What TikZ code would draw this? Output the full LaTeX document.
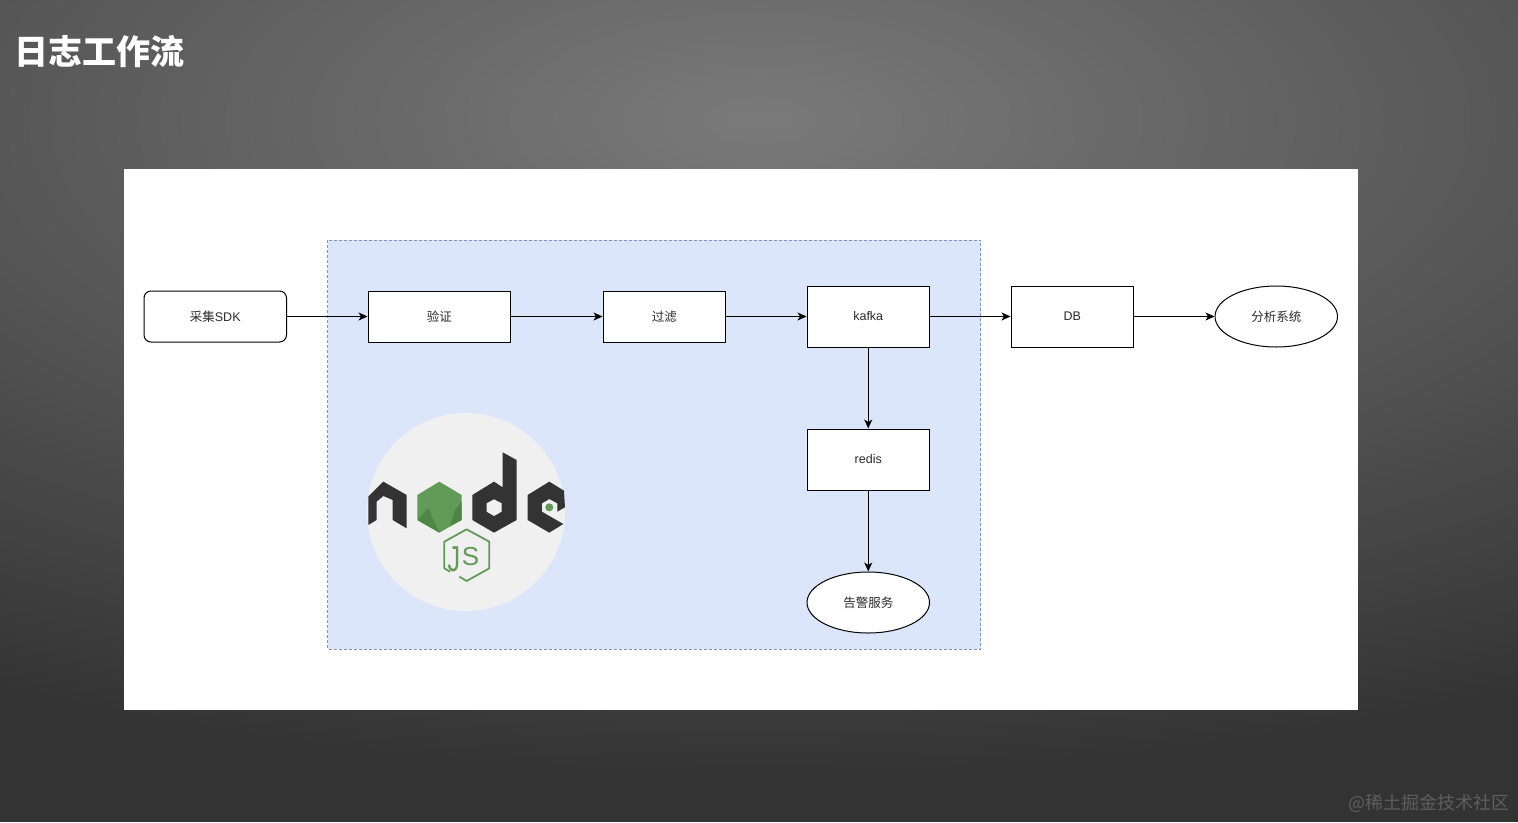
\documentclass[tikz,border=0pt]{standalone}
\usepackage{fontspec}
\setmainfont{Liberation Sans}
\newfontfamily\cjk{Noto Sans CJK SC}
\usetikzlibrary{arrows.meta,shapes.geometric}
\definecolor{groupfill}{HTML}{DBE6FA}
\definecolor{groupline}{HTML}{7F93C4}
\definecolor{logodark}{HTML}{333333}
\definecolor{logogreen}{HTML}{629A57}
\definecolor{logodeep}{HTML}{4C8743}
\definecolor{logolight}{HTML}{F0F0F0}
\definecolor{bgin}{HTML}{7A7A7A}
\definecolor{bgout}{HTML}{333333}
\definecolor{labeltext}{HTML}{2B2B2B}
\definecolor{marktext}{HTML}{5E5E5E}
\tikzset{
  x=1pt,y=-1pt,
  flow/.style={draw=black,line width=1pt,-{Stealth[length=9pt,width=8pt,inset=2.5pt]}},
  box/.style={draw=black,fill=white,line width=1pt,inner sep=0pt,text=labeltext,font=\fontsize{12.5}{14}\selectfont},
  oval/.style={box,ellipse,minimum width=122.5pt,minimum height=61pt},
}
\begin{document}
\begin{tikzpicture}
\useasboundingbox (0,0) rectangle (1518,822);
\begin{scope}
  \clip (0,0) rectangle (1518,822);
  \fill[bgout] (0,0) rectangle (1518,822);
  \shade[inner color=bgin,outer color=bgout] (760,120) ellipse [x radius=1550,y radius=665];
\end{scope}
\node[anchor=west,text=white,inner sep=0pt,font=\fontsize{34}{40}\selectfont\cjk\bfseries] (title) at (14,52) {日志工作流};
\fill[white] (124,169) rectangle (1358,710);
\draw[draw=groupline,fill=groupfill,line width=1pt,dash pattern=on 3pt off 2pt] (327.5,240) rectangle (980.5,649);
% logo
\fill[logolight] (466,512) circle (99);
\begin{scope}[shift={(350,400)},x=0.3333pt,y=-0.3333pt]
  \fill[logodark] (55,290)--(100,245)--(170,285)--(170,385)--(128,360)--(128,300)--(100,288)--(80,305)--(80,360)--(55,375)--cycle;
  \fill[logogreen] (268,245)--(335,285)--(335,360)--(268,398)--(202,360)--(202,285)--cycle;
  \fill[logodeep] (202,360)--(235,325)--(268,398)--cycle;
  \fill[logodeep] (335,305)--(335,360)--(300,378)--(315,330)--cycle;
  \fill[logodark] (458,157)--(500,180)--(500,360)--(432,398)--(367,360)--(367,285)--(432,245)--(458,262)--cycle;
  \fill[logolight] (432,298)--(455,310)--(455,335)--(432,348)--(410,335)--(410,310)--cycle;
  \fill[logodark] (598,245)--(642,272)--(645,322)--(622,335)--(622,310)--(598,297)--(576,310)--(576,335)--(598,348)--(640,372)--(598,398)--(533,360)--(533,285)--cycle;
  \fill[logogreen] (598,322) circle (12);
  \draw[logogreen,line width=1.8pt,line join=round] (300,515)--(283,505)--(283,425)--(350,388)--(418,425)--(418,505)--(350,543)--(328,530);
  \node[text=logogreen,inner sep=0pt,xscale=0.7,font=\fontsize{36}{36}\selectfont] (jsj) at (312,478) {J};
  \node[text=logogreen,inner sep=0pt,font=\fontsize{26}{26}\selectfont] (jss) at (362,469) {S};
\end{scope}
% nodes
\node[box,rectangle,rounded corners=7pt,minimum width=142.5pt,minimum height=51pt] (sdk) at (215.25,316.5) {\raisebox{0.8pt}{{\cjk 采集}SDK}};
\node[box,rectangle,minimum width=142.5pt,minimum height=51pt] (verify) at (439.25,316.5) {\raisebox{0.8pt}{\cjk 验证}};
\node[box,rectangle,minimum width=122.5pt,minimum height=51pt] (filter) at (664.25,316.5) {\raisebox{0.8pt}{\cjk 过滤}};
\node[box,rectangle,minimum width=122.5pt,minimum height=61pt] (kafka) at (868.25,316.5) {kafka};
\node[box,rectangle,minimum width=122.5pt,minimum height=61pt] (db) at (1072.25,316.5) {DB};
\node[oval] (analysis) at (1276.25,316.5) {\cjk 分析系统};
\node[box,rectangle,minimum width=122.5pt,minimum height=61pt] (redis) at (868.25,459.5) {redis};
\node[oval] (alert) at (868.25,602.5) {\cjk 告警服务};
% connectors
\draw[flow] (sdk) -- (verify);
\draw[flow] (verify) -- (filter);
\draw[flow] (filter) -- (kafka);
\draw[flow] (kafka) -- (db);
\draw[flow] (db) -- (analysis);
\draw[flow] (kafka) -- (redis);
\draw[flow] (redis) -- (alert);
\node[anchor=east,text=marktext,inner sep=0pt,font=\fontsize{18}{22}\selectfont\cjk] (mark) at (1510,803) {@稀土掘金技术社区};
\end{tikzpicture}
\end{document}
